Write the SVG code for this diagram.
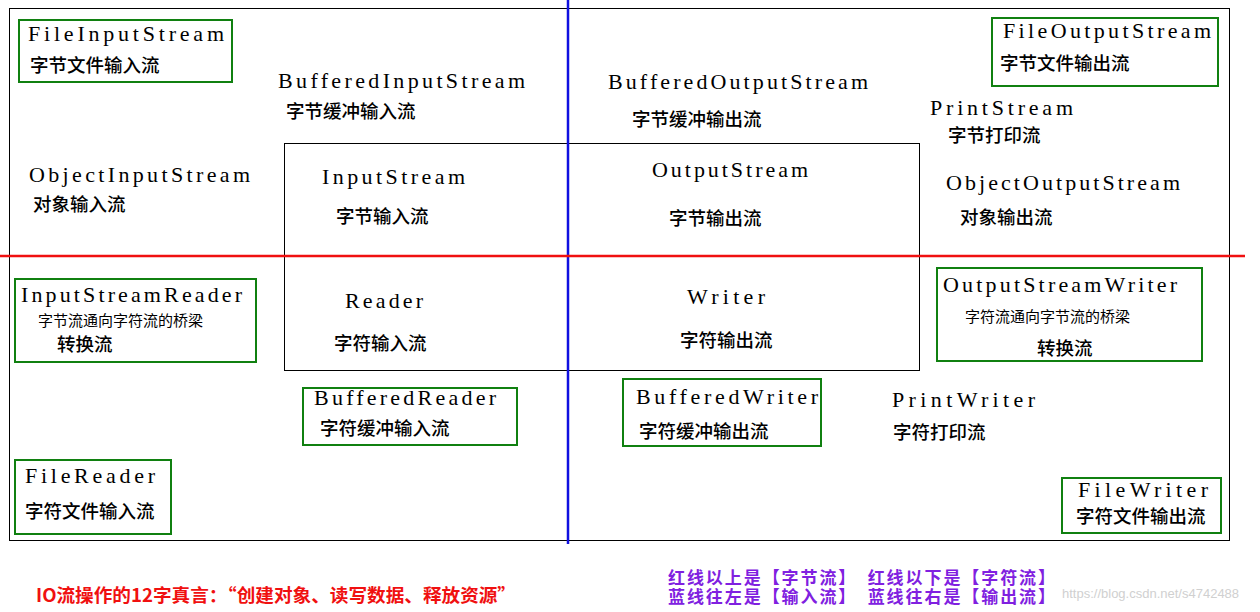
<svg xmlns="http://www.w3.org/2000/svg" width="1260" height="612" viewBox="0 0 1260 612">
<style>
.en{font-family:"Liberation Serif","DejaVu Serif",serif;font-size:22px;fill:#000}
.zh{font-family:"Noto Sans CJK SC",sans-serif;font-size:18.5px;font-weight:500;fill:#000}
.sm{font-family:"Noto Sans CJK SC",sans-serif;font-size:15px;fill:#000}
.g{fill:none;stroke:#108010;stroke-width:2}
</style>
<rect width="1260" height="612" fill="#fff"/>
<g id="frame">
<rect x="9.5" y="8.5" width="1220" height="532" fill="none" stroke="#000" stroke-width="1"/>
<rect x="284.5" y="143.5" width="635" height="227" fill="none" stroke="#000" stroke-width="1"/>
</g>
<g id="connectors">
<line x1="568" y1="0" x2="568" y2="544" stroke="#1010e0" stroke-width="2.5"/>
<line x1="0" y1="256" x2="1245" y2="256" stroke="#f01010" stroke-width="2.5"/>
</g>
<g id="FileInputStream"><rect class="g" x="19" y="20" width="213" height="62"/><text class="en" x="28" y="41" textLength="196" lengthAdjust="spacing">FileInputStream</text><text class="zh" x="30" y="72">字节文件输入流</text></g>
<g id="BufferedInputStream"><text class="en" x="278" y="88" textLength="247" lengthAdjust="spacing">BufferedInputStream</text><text class="zh" x="286" y="118">字节缓冲输入流</text></g>
<g id="BufferedOutputStream"><text class="en" x="608" y="89" textLength="260" lengthAdjust="spacing">BufferedOutputStream</text><text class="zh" x="632" y="126">字节缓冲输出流</text></g>
<g id="FileOutputStream"><rect class="g" x="992" y="18" width="226" height="68"/><text class="en" x="1003" y="38" textLength="208" lengthAdjust="spacing">FileOutputStream</text><text class="zh" x="1000" y="70">字节文件输出流</text></g>
<g id="PrintStream"><text class="en" x="930" y="115" textLength="143" lengthAdjust="spacing">PrintStream</text><text class="zh" x="948" y="142">字节打印流</text></g>
<g id="ObjectInputStream"><text class="en" x="29" y="182" textLength="221" lengthAdjust="spacing">ObjectInputStream</text><text class="zh" x="33" y="211">对象输入流</text></g>
<g id="InputStream"><text class="en" x="322" y="184" textLength="143" lengthAdjust="spacing">InputStream</text><text class="zh" x="336" y="223">字节输入流</text></g>
<g id="OutputStream"><text class="en" x="652" y="177" textLength="156" lengthAdjust="spacing">OutputStream</text><text class="zh" x="669" y="225">字节输出流</text></g>
<g id="ObjectOutputStream"><text class="en" x="946" y="190" textLength="234" lengthAdjust="spacing">ObjectOutputStream</text><text class="zh" x="960" y="224">对象输出流</text></g>
<g id="InputStreamReader"><rect class="g" x="15" y="279" width="241" height="83"/><text class="en" x="21" y="302" textLength="221" lengthAdjust="spacing">InputStreamReader</text><text class="sm" x="38" y="326">字节流通向字符流的桥梁</text><text class="zh" x="57" y="351">转换流</text></g>
<g id="Reader"><text class="en" x="345" y="308" textLength="78" lengthAdjust="spacing">Reader</text><text class="zh" x="334" y="350">字符输入流</text></g>
<g id="Writer"><text class="en" x="687" y="304" textLength="78" lengthAdjust="spacing">Writer</text><text class="zh" x="680" y="347">字符输出流</text></g>
<g id="OutputStreamWriter"><rect class="g" x="937" y="268" width="265" height="93"/><text class="en" x="943" y="292" textLength="234" lengthAdjust="spacing">OutputStreamWriter</text><text class="sm" x="965" y="322">字符流通向字节流的桥梁</text><text class="zh" x="1037" y="355">转换流</text></g>
<g id="BufferedReader"><rect class="g" x="303" y="388" width="214" height="57"/><text class="en" x="314" y="405" textLength="182" lengthAdjust="spacing">BufferedReader</text><text class="zh" x="320" y="435">字符缓冲输入流</text></g>
<g id="BufferedWriter"><rect class="g" x="623" y="379" width="198" height="67"/><text class="en" x="636" y="404" textLength="182" lengthAdjust="spacing">BufferedWriter</text><text class="zh" x="639" y="438">字符缓冲输出流</text></g>
<g id="PrintWriter"><text class="en" x="892" y="407" textLength="143" lengthAdjust="spacing">PrintWriter</text><text class="zh" x="893" y="439">字符打印流</text></g>
<g id="FileReader"><rect class="g" x="15" y="460" width="156" height="74"/><text class="en" x="25" y="483" textLength="130" lengthAdjust="spacing">FileReader</text><text class="zh" x="25" y="518">字符文件输入流</text></g>
<g id="FileWriter"><rect class="g" x="1062" y="478" width="159" height="55"/><text class="en" x="1078" y="497" textLength="130" lengthAdjust="spacing">FileWriter</text><text class="zh" x="1076" y="523">字符文件输出流</text></g>
<g id="notes" font-family="Noto Sans CJK SC,sans-serif" font-weight="bold">
<text x="36" y="602" fill="#f01010" font-size="18" textLength="480" lengthAdjust="spacingAndGlyphs">IO流操作的12字真言：“创建对象、读写数据、释放资源”</text>
<text x="668" y="584" fill="#8020e0" font-size="17" textLength="387" lengthAdjust="spacing">红线以上是【字节流】　红线以下是【字符流】</text>
<text x="668" y="603" fill="#8020e0" font-size="17" textLength="387" lengthAdjust="spacing">蓝线往左是【输入流】　蓝线往右是【输出流】</text>
<text x="1062" y="598" fill="#d0d0d0" font-weight="normal" font-size="13" font-family="Liberation Sans,sans-serif">https://blog.csdn.net/s4742488</text>
</g>
</svg>
